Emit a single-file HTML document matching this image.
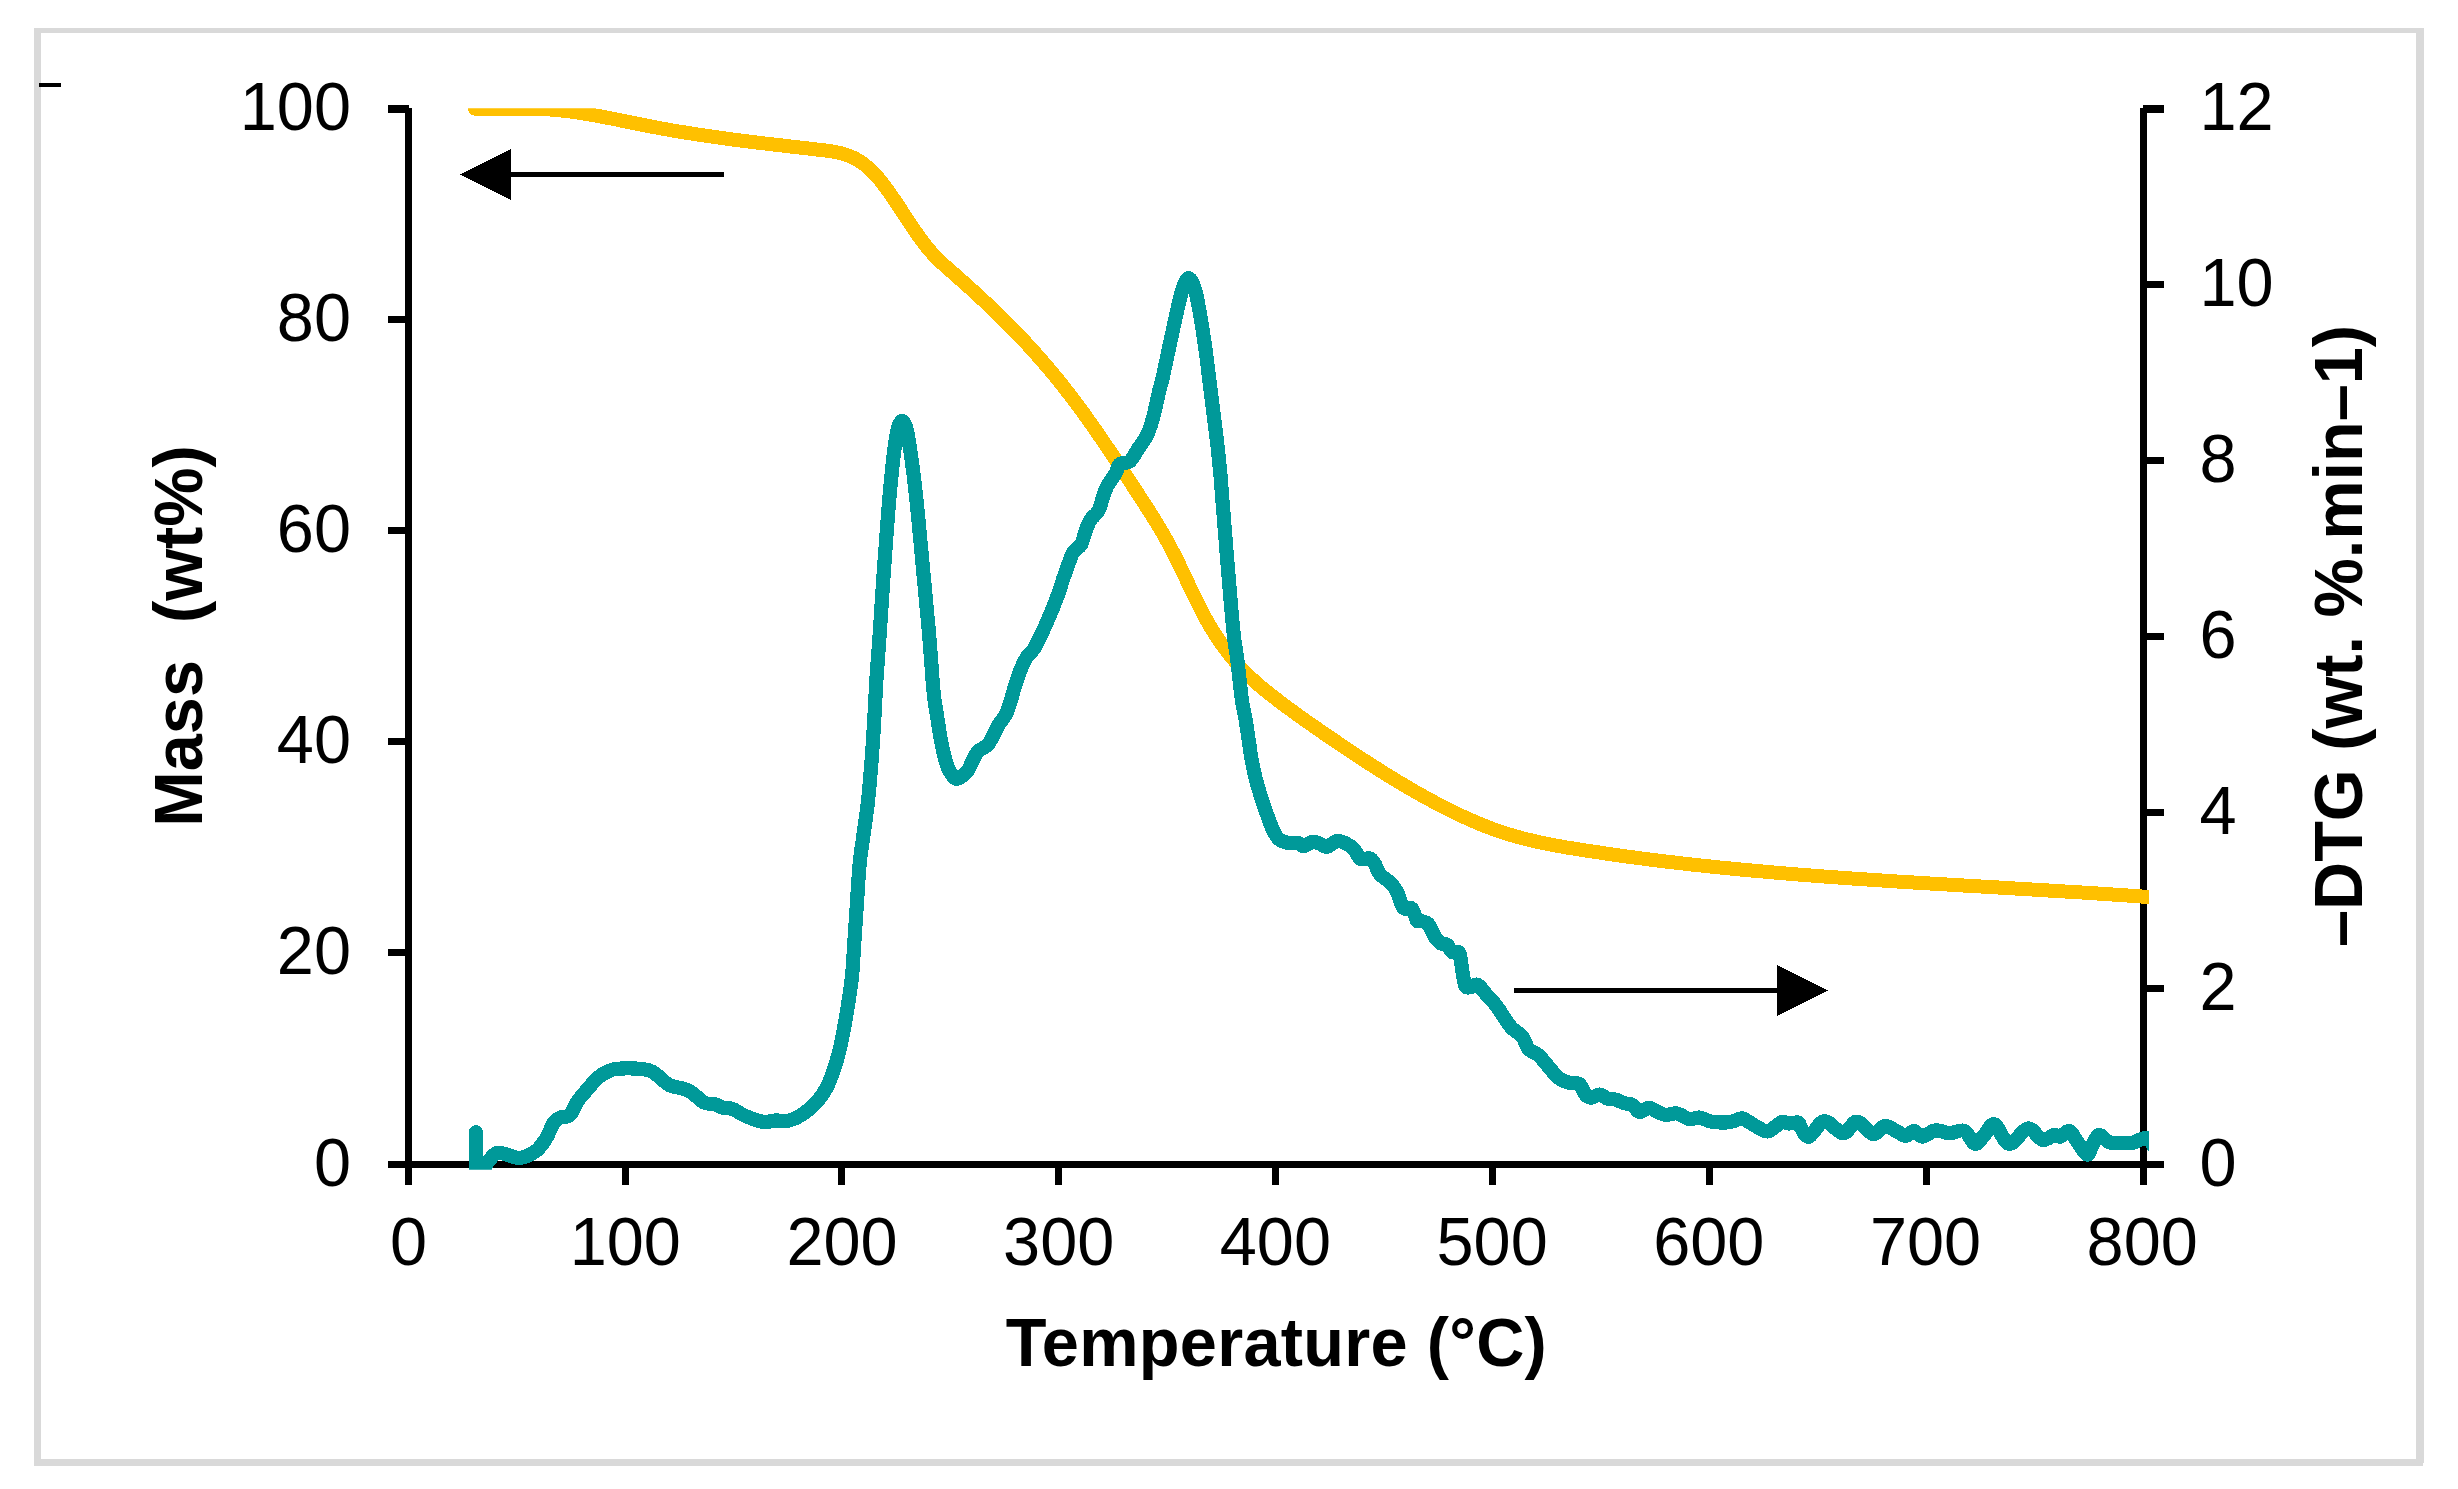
<!DOCTYPE html>
<html lang="en"><head><meta charset="utf-8"><title>TGA / DTG</title>
<style>html,body{margin:0;padding:0;background:#fff;}svg{display:block;}text{font-family:"Liberation Sans",sans-serif;fill:#000;}</style></head><body>
<svg width="2458" height="1489" viewBox="0 0 2458 1489" shape-rendering="crispEdges">
<rect x="0" y="0" width="2458" height="1489" fill="#fff"/>
<g fill="#d9d9d9"><rect x="34" y="28" width="2390" height="5"/><rect x="34" y="1459.3" width="2389" height="6.6"/><rect x="34" y="28" width="7" height="1438"/><rect x="2416" y="28" width="8" height="1434.8"/></g>
<rect x="39" y="82.5" width="22" height="4.5" fill="#000"/>
<defs><clipPath id="cy"><rect x="400" y="108.2" width="1749" height="1062"/></clipPath><clipPath id="ct"><rect x="400" y="100" width="1749" height="1069.7"/></clipPath></defs>
<g fill="#000">
<rect x="405" y="108" width="7" height="1077"/>
<rect x="2140" y="108" width="7" height="1077"/>
<rect x="388" y="1161" width="1776" height="7"/>
<rect x="388" y="105" width="21" height="8"/>
<rect x="388" y="316.0" width="20" height="7"/>
<rect x="388" y="527.0" width="20" height="7"/>
<rect x="388" y="738.0" width="20" height="7"/>
<rect x="388" y="949.0" width="20" height="7"/>
<rect x="2143" y="105" width="21" height="8"/>
<rect x="2144" y="281.0" width="20" height="7"/>
<rect x="2144" y="457.0" width="20" height="7"/>
<rect x="2144" y="633.0" width="20" height="7"/>
<rect x="2144" y="809.0" width="20" height="7"/>
<rect x="2144" y="985.0" width="20" height="7"/>
<rect x="622" y="1164" width="7" height="21"/>
<rect x="838" y="1164" width="7" height="21"/>
<rect x="1055" y="1164" width="7" height="21"/>
<rect x="1272" y="1164" width="7" height="21"/>
<rect x="1489" y="1164" width="7" height="21"/>
<rect x="1706" y="1164" width="7" height="21"/>
<rect x="1923" y="1164" width="7" height="21"/>
</g>
<g font-size="66.67px">
<text transform="translate(351,129.7) scale(1,1.040)" text-anchor="end">100</text>
<text transform="translate(351,340.7) scale(1,1.040)" text-anchor="end">80</text>
<text transform="translate(351,551.7) scale(1,1.040)" text-anchor="end">60</text>
<text transform="translate(351,762.7) scale(1,1.040)" text-anchor="end">40</text>
<text transform="translate(351,973.7) scale(1,1.040)" text-anchor="end">20</text>
<text transform="translate(351,1185.7) scale(1,1.040)" text-anchor="end">0</text>
<text transform="translate(2199.5,129.7) scale(1,1.040)">12</text>
<text transform="translate(2199.5,305.7) scale(1,1.040)">10</text>
<text transform="translate(2199.5,481.7) scale(1,1.040)">8</text>
<text transform="translate(2199.5,657.7) scale(1,1.040)">6</text>
<text transform="translate(2199.5,833.7) scale(1,1.040)">4</text>
<text transform="translate(2199.5,1009.7) scale(1,1.040)">2</text>
<text transform="translate(2199.5,1185.7) scale(1,1.040)">0</text>
<text transform="translate(408.6,1265.2) scale(1,1.040)" text-anchor="middle">0</text>
<text transform="translate(625.3,1265.2) scale(1,1.040)" text-anchor="middle">100</text>
<text transform="translate(842.0,1265.2) scale(1,1.040)" text-anchor="middle">200</text>
<text transform="translate(1058.7,1265.2) scale(1,1.040)" text-anchor="middle">300</text>
<text transform="translate(1275.4,1265.2) scale(1,1.040)" text-anchor="middle">400</text>
<text transform="translate(1492.1,1265.2) scale(1,1.040)" text-anchor="middle">500</text>
<text transform="translate(1708.8,1265.2) scale(1,1.040)" text-anchor="middle">600</text>
<text transform="translate(1925.5,1265.2) scale(1,1.040)" text-anchor="middle">700</text>
<text transform="translate(2142.2,1265.2) scale(1,1.040)" text-anchor="middle">800</text>
</g>
<path clip-path="url(#cy)" d="M475.0,108.7 C476.7,108.7 481.7,108.8 485.0,108.8 C488.3,108.8 491.7,108.8 495.0,108.8 C498.3,108.8 501.7,108.7 505.0,108.7 C508.3,108.7 511.7,108.6 515.0,108.6 C518.3,108.6 521.7,108.6 525.0,108.6 C528.3,108.7 531.7,108.7 535.0,108.8 C538.3,108.9 541.7,109.0 545.0,109.2 C548.3,109.4 551.7,109.6 555.0,109.9 C558.3,110.2 561.7,110.5 565.0,110.9 C568.3,111.3 571.7,111.7 575.0,112.2 C578.3,112.7 581.7,113.2 585.0,113.7 C588.3,114.3 591.7,114.8 595.0,115.4 C598.3,116.0 601.7,116.6 605.0,117.3 C608.3,117.9 611.7,118.6 615.0,119.2 C618.3,119.9 621.7,120.6 625.0,121.3 C628.3,121.9 631.7,122.6 635.0,123.3 C638.3,124.0 641.7,124.6 645.0,125.3 C648.3,126.0 651.7,126.6 655.0,127.3 C658.3,127.9 661.7,128.5 665.0,129.1 C668.3,129.7 671.7,130.3 675.0,130.9 C678.3,131.4 681.7,132.0 685.0,132.5 C688.3,133.1 691.7,133.6 695.0,134.1 C698.3,134.6 701.7,135.1 705.0,135.6 C708.3,136.1 711.7,136.6 715.0,137.1 C718.3,137.5 721.7,138.0 725.0,138.4 C728.3,138.9 731.7,139.3 735.0,139.8 C738.3,140.2 741.7,140.6 745.0,141.0 C748.3,141.5 751.7,141.9 755.0,142.3 C758.3,142.7 761.7,143.1 765.0,143.5 C768.3,143.9 771.7,144.3 775.0,144.7 C778.3,145.1 781.7,145.4 785.0,145.8 C788.3,146.2 791.7,146.6 795.0,147.0 C798.3,147.4 801.7,147.7 805.0,148.1 C808.3,148.5 811.7,148.9 815.0,149.3 C818.3,149.7 821.7,150.0 825.0,150.4 C828.3,150.9 831.7,151.3 835.0,151.9 C838.3,152.6 841.7,153.3 845.0,154.4 C848.3,155.5 851.7,156.8 855.0,158.5 C858.3,160.3 861.7,162.3 865.0,165.0 C868.3,167.6 871.7,170.7 875.0,174.3 C878.3,177.9 881.7,182.2 885.0,186.6 C888.3,191.0 891.7,195.9 895.0,200.8 C898.3,205.7 901.7,210.9 905.0,215.9 C908.3,221.0 911.7,226.1 915.0,230.9 C918.3,235.7 921.7,240.5 925.0,244.7 C928.3,249.0 931.7,252.9 935.0,256.4 C938.3,259.9 941.7,262.9 945.0,265.9 C948.3,269.0 951.7,271.8 955.0,274.7 C958.3,277.7 961.7,280.6 965.0,283.6 C968.3,286.6 971.7,289.6 975.0,292.6 C978.3,295.7 981.7,298.8 985.0,301.9 C988.3,305.0 991.7,308.2 995.0,311.4 C998.3,314.6 1001.7,317.9 1005.0,321.2 C1008.3,324.5 1011.7,327.9 1015.0,331.3 C1018.3,334.8 1021.7,338.3 1025.0,341.8 C1028.3,345.4 1031.7,349.1 1035.0,352.8 C1038.3,356.5 1041.7,360.3 1045.0,364.2 C1048.3,368.1 1051.7,372.0 1055.0,376.1 C1058.3,380.2 1061.7,384.3 1065.0,388.6 C1068.3,392.8 1071.7,397.2 1075.0,401.6 C1078.3,406.1 1081.7,410.6 1085.0,415.2 C1088.3,419.9 1091.7,424.6 1095.0,429.4 C1098.3,434.1 1101.7,439.0 1105.0,443.9 C1108.3,448.8 1111.7,453.8 1115.0,458.8 C1118.3,463.8 1121.7,468.9 1125.0,473.9 C1128.3,479.0 1131.7,484.1 1135.0,489.2 C1138.3,494.4 1141.7,499.5 1145.0,504.6 C1148.3,509.8 1151.7,514.9 1155.0,520.4 C1158.3,525.8 1161.7,531.3 1165.0,537.2 C1168.3,543.1 1171.7,549.4 1175.0,556.0 C1178.3,562.5 1181.7,569.7 1185.0,576.7 C1188.3,583.6 1191.7,591.0 1195.0,597.7 C1198.3,604.5 1201.7,611.2 1205.0,617.3 C1208.3,623.4 1211.7,629.0 1215.0,634.3 C1218.3,639.5 1221.7,644.3 1225.0,648.8 C1228.3,653.3 1231.7,657.5 1235.0,661.3 C1238.3,665.2 1241.7,668.8 1245.0,672.2 C1248.3,675.6 1251.7,678.7 1255.0,681.7 C1258.3,684.7 1261.7,687.5 1265.0,690.2 C1268.3,692.9 1271.7,695.5 1275.0,698.1 C1278.3,700.7 1281.7,703.2 1285.0,705.7 C1288.3,708.2 1291.7,710.6 1295.0,713.0 C1298.3,715.5 1301.7,717.8 1305.0,720.2 C1308.3,722.5 1311.7,724.9 1315.0,727.2 C1318.3,729.5 1321.7,731.8 1325.0,734.1 C1328.3,736.4 1331.7,738.6 1335.0,740.9 C1338.3,743.2 1341.7,745.4 1345.0,747.7 C1348.3,749.9 1351.7,752.1 1355.0,754.3 C1358.3,756.5 1361.7,758.7 1365.0,760.9 C1368.3,763.0 1371.7,765.2 1375.0,767.3 C1378.3,769.4 1381.7,771.5 1385.0,773.6 C1388.3,775.7 1391.7,777.7 1395.0,779.8 C1398.3,781.8 1401.7,783.8 1405.0,785.7 C1408.3,787.7 1411.7,789.7 1415.0,791.6 C1418.3,793.5 1421.7,795.3 1425.0,797.2 C1428.3,799.0 1431.7,800.8 1435.0,802.6 C1438.3,804.4 1441.7,806.1 1445.0,807.8 C1448.3,809.5 1451.7,811.1 1455.0,812.8 C1458.3,814.4 1461.7,815.9 1465.0,817.5 C1468.3,819.0 1471.7,820.5 1475.0,821.9 C1478.3,823.3 1481.7,824.7 1485.0,826.0 C1488.3,827.3 1491.7,828.6 1495.0,829.8 C1498.3,831.0 1501.7,832.1 1505.0,833.2 C1508.3,834.2 1511.7,835.2 1515.0,836.2 C1518.3,837.1 1521.7,838.0 1525.0,838.9 C1528.3,839.7 1531.7,840.5 1535.0,841.3 C1538.3,842.0 1541.7,842.8 1545.0,843.4 C1548.3,844.1 1551.7,844.8 1555.0,845.4 C1558.3,846.0 1561.7,846.6 1565.0,847.2 C1568.3,847.7 1571.7,848.3 1575.0,848.8 C1578.3,849.4 1581.7,849.9 1585.0,850.4 C1588.3,850.9 1591.7,851.4 1595.0,851.9 C1598.3,852.4 1601.7,852.9 1605.0,853.4 C1608.3,853.9 1611.7,854.4 1615.0,854.9 C1618.3,855.3 1621.7,855.8 1625.0,856.3 C1628.3,856.7 1631.7,857.2 1635.0,857.6 C1638.3,858.0 1641.7,858.5 1645.0,858.9 C1648.3,859.3 1651.7,859.8 1655.0,860.2 C1658.3,860.6 1661.7,861.0 1665.0,861.4 C1668.3,861.8 1671.7,862.2 1675.0,862.6 C1678.3,863.0 1681.7,863.4 1685.0,863.7 C1688.3,864.1 1691.7,864.5 1695.0,864.9 C1698.3,865.2 1701.7,865.6 1705.0,865.9 C1708.3,866.3 1711.7,866.6 1715.0,867.0 C1718.3,867.3 1721.7,867.7 1725.0,868.0 C1728.3,868.3 1731.7,868.6 1735.0,869.0 C1738.3,869.3 1741.7,869.6 1745.0,869.9 C1748.3,870.2 1751.7,870.5 1755.0,870.8 C1758.3,871.1 1761.7,871.4 1765.0,871.7 C1768.3,872.0 1771.7,872.3 1775.0,872.6 C1778.3,872.9 1781.7,873.2 1785.0,873.4 C1788.3,873.7 1791.7,874.0 1795.0,874.3 C1798.3,874.5 1801.7,874.8 1805.0,875.1 C1808.3,875.3 1811.7,875.6 1815.0,875.8 C1818.3,876.1 1821.7,876.3 1825.0,876.6 C1828.3,876.8 1831.7,877.1 1835.0,877.3 C1838.3,877.5 1841.7,877.8 1845.0,878.0 C1848.3,878.3 1851.7,878.5 1855.0,878.7 C1858.3,878.9 1861.7,879.2 1865.0,879.4 C1868.3,879.6 1871.7,879.8 1875.0,880.1 C1878.3,880.3 1881.7,880.5 1885.0,880.7 C1888.3,880.9 1891.7,881.1 1895.0,881.4 C1898.3,881.6 1901.7,881.8 1905.0,882.0 C1908.3,882.2 1911.7,882.4 1915.0,882.6 C1918.3,882.8 1921.7,883.0 1925.0,883.2 C1928.3,883.4 1931.7,883.6 1935.0,883.8 C1938.3,884.0 1941.7,884.2 1945.0,884.4 C1948.3,884.6 1951.7,884.8 1955.0,885.0 C1958.3,885.2 1961.7,885.4 1965.0,885.6 C1968.3,885.8 1971.7,886.0 1975.0,886.2 C1978.3,886.4 1981.7,886.5 1985.0,886.7 C1988.3,886.9 1991.7,887.1 1995.0,887.3 C1998.3,887.5 2001.7,887.7 2005.0,887.9 C2008.3,888.1 2011.7,888.3 2015.0,888.5 C2018.3,888.7 2021.7,888.9 2025.0,889.1 C2028.3,889.3 2031.7,889.5 2035.0,889.7 C2038.3,889.9 2041.7,890.1 2045.0,890.3 C2048.3,890.5 2051.7,890.7 2055.0,890.9 C2058.3,891.1 2061.7,891.3 2065.0,891.5 C2068.3,891.7 2071.7,891.9 2075.0,892.1 C2078.3,892.3 2081.7,892.5 2085.0,892.7 C2088.3,892.9 2091.7,893.1 2095.0,893.3 C2098.3,893.6 2101.7,893.8 2105.0,894.0 C2108.3,894.2 2111.7,894.4 2115.0,894.7 C2118.3,894.9 2121.7,895.1 2125.0,895.3 C2128.3,895.6 2131.7,895.8 2135.0,896.0 C2138.3,896.3 2142.7,896.6 2145.0,896.8 C2147.3,896.9 2148.2,897.0 2148.8,897.0" fill="none" stroke="#ffc000" stroke-width="14" stroke-linejoin="round" stroke-linecap="round"/>
<path clip-path="url(#ct)" d="M475.9,1180.0 C475.9,1172.0 475.7,1132.8 475.9,1132.3 C476.1,1131.8 475.2,1172.2 477.3,1177.0 C479.4,1181.8 485.1,1165.1 488.6,1161.1 C492.1,1157.1 493.3,1153.3 498.4,1152.8 C503.5,1152.3 513.0,1158.1 519.2,1157.9 C525.3,1157.7 531.0,1154.5 535.4,1151.4 C539.8,1148.3 542.6,1143.9 545.6,1139.2 C548.7,1134.4 551.4,1126.5 553.7,1122.9 C556.1,1119.3 557.1,1119.2 559.8,1117.8 C562.6,1116.5 567.0,1117.6 570.0,1114.8 C573.1,1111.9 575.1,1104.9 578.2,1100.5 C581.2,1096.1 584.9,1092.2 588.3,1088.3 C591.7,1084.4 594.4,1080.3 598.5,1077.1 C602.6,1074.0 607.3,1071.1 612.7,1069.6 C618.2,1068.2 624.9,1068.3 631.0,1068.4 C637.1,1068.5 644.6,1069.0 649.3,1070.4 C654.1,1071.9 656.1,1074.7 659.5,1077.1 C662.9,1079.6 664.9,1083.1 669.7,1085.3 C674.4,1087.5 682.2,1087.5 688.0,1090.4 C693.8,1093.2 699.9,1100.3 704.3,1102.6 C708.7,1104.8 711.4,1103.1 714.4,1104.0 C717.5,1104.8 719.5,1106.8 722.6,1107.6 C725.6,1108.5 729.0,1107.7 732.8,1109.1 C736.5,1110.4 739.9,1113.6 745.0,1115.8 C750.0,1117.9 758.2,1121.1 763.3,1121.9 C768.3,1122.7 771.4,1120.6 775.5,1120.5 C779.5,1120.3 783.3,1121.8 787.7,1120.9 C792.1,1119.9 797.2,1117.8 801.9,1114.8 C806.7,1111.7 812.1,1107.0 816.2,1102.6 C820.2,1098.2 823.3,1094.1 826.3,1088.3 C829.4,1082.6 832.1,1075.1 834.5,1068.0 C836.8,1060.9 838.7,1053.7 840.6,1045.6 C842.4,1037.5 843.8,1030.1 845.6,1019.2 C847.5,1008.2 850.2,992.5 851.6,980.0 C853.0,967.6 853.4,957.2 854.2,944.4 C855.1,931.7 856.0,917.3 856.9,903.8 C857.8,890.2 858.6,874.9 859.7,863.1 C860.9,851.2 862.5,842.7 863.8,832.6 C865.2,822.4 866.6,813.9 867.9,802.1 C869.2,790.2 870.5,774.9 871.5,761.4 C872.6,747.8 873.4,734.2 874.2,720.7 C875.0,707.1 875.5,694.4 876.4,680.0 C877.3,665.6 878.5,651.9 879.7,634.1 C880.9,616.3 882.3,593.4 883.7,573.1 C885.2,552.7 886.9,529.0 888.2,512.1 C889.6,495.1 890.7,483.2 891.9,471.4 C893.1,459.5 894.5,448.3 895.5,440.9 C896.6,433.4 897.3,429.9 898.4,426.6 C899.5,423.3 900.8,420.9 902.1,420.9 C903.3,420.9 904.8,423.3 905.9,426.6 C907.0,429.9 907.5,433.4 908.8,440.9 C910.0,448.3 911.7,459.5 913.2,471.4 C914.7,483.2 916.0,495.1 917.7,512.1 C919.4,529.0 921.5,552.7 923.4,573.1 C925.3,593.4 927.4,614.6 929.1,634.1 C930.8,653.6 932.2,677.3 933.4,690.0 C934.6,702.8 934.9,702.0 936.2,710.5 C937.5,719.0 939.5,732.5 941.1,741.0 C942.7,749.5 944.3,756.3 945.8,761.4 C947.2,766.5 948.1,768.7 949.9,771.5 C951.7,774.4 953.7,778.7 956.6,778.7 C959.4,778.7 964.4,774.8 967.1,771.5 C969.9,768.3 971.4,762.7 973.2,759.3 C975.1,755.9 976.0,753.6 978.3,751.2 C980.7,748.8 984.9,747.8 987.5,745.1 C990.0,742.4 991.7,738.3 993.6,734.9 C995.5,731.5 996.6,728.1 998.7,724.8 C1000.7,721.4 1003.8,718.6 1005.8,714.6 C1007.8,710.5 1009.4,705.1 1010.9,700.3 C1012.4,695.6 1013.3,691.4 1014.9,686.1 C1016.6,680.8 1019.0,673.6 1021.0,668.7 C1023.1,663.7 1024.9,659.9 1027.2,656.5 C1029.4,653.1 1031.7,652.4 1034.3,648.3 C1036.8,644.3 1039.7,637.8 1042.4,632.1 C1045.1,626.3 1048.0,619.9 1050.5,613.8 C1053.1,607.7 1055.5,601.6 1057.7,595.5 C1059.9,589.3 1061.9,582.6 1063.8,577.1 C1065.6,571.7 1067.3,567.0 1068.9,562.9 C1070.4,558.8 1070.9,555.8 1072.9,552.7 C1075.0,549.7 1079.0,548.0 1081.1,544.6 C1083.1,541.2 1083.6,536.5 1085.1,532.4 C1086.7,528.3 1088.0,523.7 1090.2,520.2 C1092.4,516.6 1096.1,515.1 1098.3,511.0 C1100.6,507.0 1101.9,500.0 1103.4,495.8 C1105.0,491.5 1105.5,489.3 1107.5,485.6 C1109.5,481.9 1113.6,477.0 1115.6,473.4 C1117.7,469.8 1117.3,466.3 1119.7,464.2 C1122.1,462.2 1126.8,463.7 1129.9,461.2 C1132.9,458.7 1135.1,453.4 1138.0,449.0 C1140.9,444.6 1144.8,439.5 1147.2,434.8 C1149.5,430.0 1150.7,425.6 1152.3,420.5 C1153.8,415.4 1155.1,409.3 1156.3,404.2 C1157.5,399.2 1158.4,394.2 1159.4,390.0 C1160.4,385.8 1160.9,385.6 1162.4,379.0 C1163.9,372.4 1166.5,360.0 1168.5,350.5 C1170.5,341.0 1172.6,331.2 1174.6,322.1 C1176.6,312.9 1179.0,302.0 1180.7,295.6 C1182.4,289.2 1183.4,286.3 1184.8,283.4 C1186.2,280.5 1187.6,277.3 1189.3,278.3 C1191.0,279.3 1193.2,283.6 1195.0,289.5 C1196.8,295.4 1198.3,304.4 1200.0,313.9 C1201.7,323.4 1203.6,335.6 1205.1,346.5 C1206.7,357.3 1207.8,368.2 1209.2,379.0 C1210.6,389.9 1211.9,400.7 1213.3,411.6 C1214.6,422.4 1216.1,433.6 1217.3,444.1 C1218.5,454.6 1219.5,465.3 1220.4,474.6 C1221.2,483.9 1221.4,487.3 1222.4,500.0 C1223.4,512.8 1225.0,532.3 1226.5,551.0 C1228.0,569.7 1230.3,597.2 1231.6,612.0 C1232.9,626.8 1233.5,632.5 1234.4,640.0 C1235.3,647.5 1235.8,647.3 1237.0,657.3 C1238.2,667.3 1240.5,689.5 1241.9,700.0 C1243.4,710.5 1244.6,713.5 1245.7,720.3 C1246.8,727.1 1247.8,733.9 1248.8,740.7 C1249.8,747.5 1250.6,754.2 1251.9,761.0 C1253.2,767.8 1254.6,774.6 1256.4,781.4 C1258.2,788.2 1260.4,794.9 1262.6,801.7 C1264.8,808.5 1267.8,816.9 1269.7,822.0 C1271.6,827.1 1272.6,829.3 1274.2,832.2 C1275.8,835.1 1276.9,837.8 1279.5,839.6 C1282.1,841.4 1286.3,842.6 1289.5,843.1 C1292.7,843.7 1296.3,842.6 1298.7,843.1 C1301.0,843.7 1301.4,846.4 1303.7,846.2 C1306.1,846.0 1310.2,842.1 1312.9,841.7 C1315.6,841.3 1317.6,842.9 1320.0,843.8 C1322.4,844.6 1324.4,847.2 1327.1,846.8 C1329.8,846.4 1333.4,842.0 1336.3,841.3 C1339.2,840.6 1341.5,841.5 1344.4,842.7 C1347.3,844.0 1350.9,846.1 1353.6,848.8 C1356.3,851.6 1358.0,857.4 1360.7,859.0 C1363.4,860.6 1367.5,857.6 1369.9,858.4 C1372.2,859.3 1373.2,861.5 1374.9,864.1 C1376.6,866.7 1377.3,871.1 1380.0,874.3 C1382.7,877.5 1388.3,880.4 1391.2,883.4 C1394.1,886.5 1395.3,888.5 1397.3,892.6 C1399.3,896.6 1401.0,905.2 1403.4,907.8 C1405.8,910.5 1409.4,906.4 1411.6,908.4 C1413.8,910.5 1415.6,918.0 1416.6,920.0 C1417.7,922.1 1415.8,920.1 1417.6,920.7 C1419.5,921.3 1424.9,921.0 1427.8,923.7 C1430.7,926.4 1432.7,933.7 1434.9,937.0 C1437.1,940.2 1439.0,942.2 1441.0,943.5 C1443.1,944.8 1445.3,943.2 1447.1,944.7 C1449.0,946.1 1450.2,950.8 1452.2,952.2 C1454.2,953.6 1457.6,950.0 1459.3,953.2 C1461.0,956.5 1461.4,966.1 1462.4,971.5 C1463.4,977.0 1464.1,983.2 1465.4,985.8 C1466.8,988.4 1468.5,987.4 1470.5,987.2 C1472.6,987.0 1475.1,983.6 1477.6,984.8 C1480.2,985.9 1482.7,990.5 1485.8,993.9 C1488.8,997.3 1492.6,1000.7 1495.9,1005.1 C1499.3,1009.5 1503.4,1016.5 1506.1,1020.4 C1508.8,1024.3 1509.5,1025.8 1512.2,1028.5 C1514.9,1031.2 1519.7,1033.2 1522.4,1036.6 C1525.1,1040.0 1525.8,1045.7 1528.5,1048.8 C1531.2,1052.0 1535.3,1052.3 1538.7,1055.3 C1542.1,1058.4 1545.4,1063.3 1548.8,1067.1 C1552.2,1071.0 1555.6,1075.7 1559.0,1078.3 C1562.4,1080.9 1565.8,1081.9 1569.2,1082.8 C1572.6,1083.8 1576.6,1082.1 1579.3,1084.0 C1582.1,1086.0 1583.4,1092.3 1585.5,1094.6 C1587.5,1096.9 1589.2,1097.7 1591.6,1097.7 C1593.9,1097.7 1597.0,1094.4 1599.7,1094.6 C1602.4,1094.8 1605.1,1097.8 1607.8,1098.7 C1610.5,1099.5 1613.3,1098.9 1616.0,1099.7 C1618.7,1100.4 1621.4,1102.3 1624.1,1103.1 C1626.8,1104.0 1629.7,1103.3 1632.2,1104.8 C1634.8,1106.2 1636.6,1111.4 1639.4,1111.9 C1642.1,1112.4 1645.6,1107.9 1648.5,1107.8 C1651.4,1107.7 1653.8,1110.1 1656.6,1111.3 C1659.5,1112.5 1662.4,1114.6 1665.8,1114.9 C1669.2,1115.3 1673.1,1112.8 1677.0,1113.5 C1680.9,1114.2 1685.5,1118.3 1689.2,1119.0 C1692.9,1119.7 1695.6,1117.2 1699.4,1117.6 C1703.1,1118.0 1707.2,1120.8 1711.6,1121.7 C1716.0,1122.5 1722.1,1122.6 1725.8,1122.5 C1729.5,1122.4 1731.2,1121.7 1733.9,1121.0 C1736.7,1120.4 1739.0,1117.9 1742.1,1118.4 C1745.1,1118.9 1748.5,1122.0 1752.3,1124.1 C1756.0,1126.2 1761.4,1129.8 1764.5,1130.8 C1767.5,1131.8 1767.7,1131.7 1770.6,1130.2 C1773.4,1128.7 1778.7,1123.2 1781.7,1122.1 C1784.8,1120.9 1786.2,1123.4 1788.9,1123.5 C1791.6,1123.6 1796.2,1122.1 1798.0,1122.5 C1799.9,1122.9 1798.2,1123.7 1800.0,1126.0 C1801.8,1128.4 1804.9,1137.4 1809.0,1136.6 C1813.0,1135.8 1818.7,1121.7 1824.4,1121.1 C1830.1,1120.6 1837.7,1133.3 1843.1,1133.3 C1848.5,1133.4 1851.9,1121.5 1857.0,1121.6 C1862.0,1121.8 1868.6,1133.4 1873.2,1134.1 C1877.8,1134.9 1880.8,1126.6 1884.6,1126.0 C1888.4,1125.5 1892.5,1129.3 1896.0,1130.9 C1899.5,1132.5 1902.8,1135.8 1905.8,1135.8 C1908.8,1135.8 1911.2,1130.8 1913.9,1130.9 C1916.6,1131.0 1918.8,1136.6 1922.1,1136.6 C1925.3,1136.6 1930.5,1131.8 1933.4,1130.9 C1936.4,1129.9 1937.2,1130.5 1940.0,1130.9 C1942.7,1131.3 1945.6,1133.3 1949.7,1133.3 C1953.8,1133.3 1960.2,1129.1 1964.4,1130.9 C1968.6,1132.7 1971.7,1143.1 1974.9,1143.9 C1978.2,1144.7 1980.6,1139.0 1983.9,1135.8 C1987.1,1132.5 1990.3,1123.0 1994.5,1124.4 C1998.7,1125.7 2003.6,1143.2 2009.1,1143.9 C2014.7,1144.6 2022.3,1129.1 2027.8,1128.5 C2033.4,1127.8 2038.1,1138.8 2042.5,1139.8 C2046.8,1140.9 2050.9,1135.5 2053.9,1135.0 C2056.8,1134.4 2057.8,1137.3 2060.4,1136.6 C2063.0,1135.9 2066.6,1130.2 2069.3,1130.9 C2072.0,1131.6 2073.7,1136.7 2076.6,1140.7 C2079.6,1144.6 2084.5,1153.9 2087.2,1154.5 C2089.9,1155.0 2090.9,1147.2 2092.9,1143.9 C2095.0,1140.7 2096.7,1135.2 2099.4,1135.0 C2102.1,1134.7 2105.6,1140.9 2109.2,1142.3 C2112.8,1143.6 2117.1,1142.9 2121.0,1143.0 C2124.9,1143.1 2129.6,1143.3 2132.5,1142.8 C2135.4,1142.3 2136.8,1141.0 2138.7,1140.2 C2140.6,1139.5 2142.3,1138.6 2144.2,1138.3 C2146.1,1138.0 2149.0,1138.2 2150.0,1138.2" fill="none" stroke="#009999" stroke-width="14.2" stroke-linejoin="round" stroke-linecap="round"/>
<polygon points="2141.8,1131.2 2149,1131.2 2149,1151.9 2144.5,1144.8 2139,1146" fill="#009999"/>
<g fill="#000"><rect x="505" y="171.8" width="219" height="5.4"/><polygon points="460,174.5 511,149 511,200"/>
<rect x="1513.8" y="987.8" width="270" height="5.4"/><polygon points="1828.2,990.5 1777.3,965.2 1777.3,1015.9"/></g>
<g font-size="66.67px" font-weight="bold">
<text transform="translate(1276.3,1366.3) scale(1,1.03)" text-anchor="middle" textLength="541" lengthAdjust="spacing">Temperature (°C)</text>
<text transform="translate(201.8,636) rotate(-90) scale(1,1.03)" text-anchor="middle" xml:space="preserve" style="white-space:pre">Mass  (wt%)</text>
<text transform="translate(2361.8,636) rotate(-90) scale(1,1.03)" text-anchor="middle">–DTG (wt. %.min–1)</text>
</g>
</svg></body></html>
